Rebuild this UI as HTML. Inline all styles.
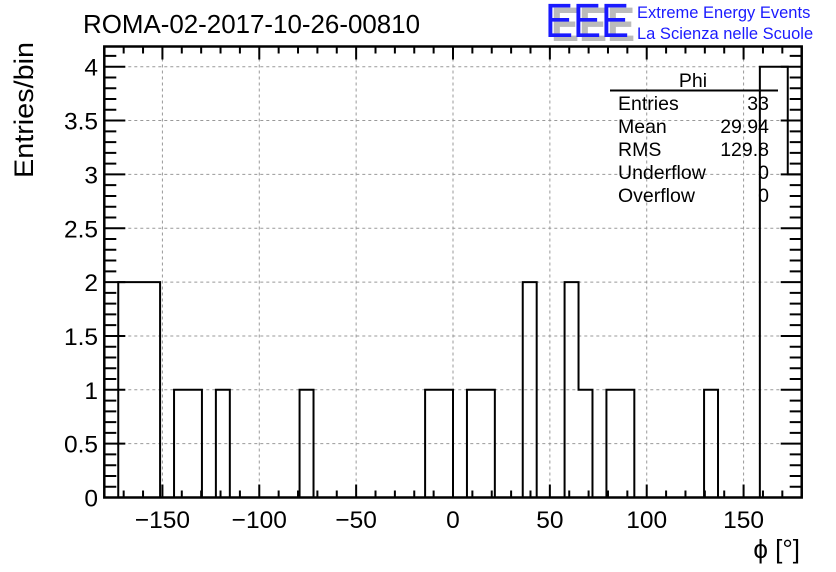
<!DOCTYPE html>
<html><head><meta charset="utf-8"><style>
html,body{margin:0;padding:0;background:#fff;}
svg{display:block;font-family:"Liberation Sans",Arial,sans-serif;}
</style></head><body>
<svg id="chart" width="836" height="572" viewBox="0 0 836 572" xmlns="http://www.w3.org/2000/svg">
<rect x="0" y="0" width="836" height="572" fill="#fff"/>
<g id="grid"></g>
<g id="hist"></g>
<g id="axes"></g>
<text x="83" y="33" font-size="26" fill="#000" textLength="337" lengthAdjust="spacingAndGlyphs">ROMA-02-2017-10-26-00810</text>
<text transform="translate(33,178) rotate(-90)" font-size="27" fill="#000" textLength="136" lengthAdjust="spacingAndGlyphs">Entries/bin</text>
<text x="800" y="558" font-size="26" text-anchor="end" fill="#000">ϕ [°]</text>
<g>
<text x="551" y="41" font-size="48" fill="#bbb" font-weight="bold" textLength="84" lengthAdjust="spacingAndGlyphs">EEE</text>
<text x="545" y="37" font-size="48" fill="#1a1aff" textLength="84" lengthAdjust="spacingAndGlyphs">EEE</text>
<text x="637" y="18" font-size="16.5" fill="#1a1aff">Extreme Energy Events</text>
<text x="637" y="39" font-size="16.5" fill="#1a1aff">La Scienza nelle Scuole</text>
</g>
<g font-size="19.5" fill="#000">
<text x="693" y="87" text-anchor="middle">Phi</text>
<line x1="610" y1="90.5" x2="778" y2="90.5" stroke="#000" stroke-width="2"/>
<text x="618" y="110">Entries</text><text x="769" y="110" text-anchor="end">33</text>
<text x="618" y="133">Mean</text><text x="769" y="133" text-anchor="end">29.94</text>
<text x="618" y="156">RMS</text><text x="769" y="156" text-anchor="end">129.8</text>
<text x="618" y="179">Underflow</text><text x="769" y="179" text-anchor="end">0</text>
<text x="618" y="202">Overflow</text><text x="769" y="202" text-anchor="end">0</text>
</g>
</svg>
<script>
const binEdgesStart = -180;
const binWidth = 7.2;
const binValues = [0,2,2,2,0,1,1,0,1,0, 0,0,0,0,1,0,0,0,0,0, 0,0,0,1,1,0,1,1,0,0, 2,0,0,2,1,0,1,1,0,0, 0,0,0,1,0,0,0,4,4,3];
const xTickValues = [-150,-100,-50,0,50,100,150];
const xTickLabels = ["\u2212150","\u2212100","\u221250","0","50","100","150"];
const yTickValues = [0,0.5,1,1.5,2,2.5,3,3.5,4];
const yTickLabels = ["0","0.5","1","1.5","2","2.5","3","3.5","4"];

const L=104.3,R=801.7,T=46.5,B=497.5;
const xMin=-180,xMax=180,yMin=0,yMax=(B-T)/107.7;
const xs=v=>L+(v-xMin)/(xMax-xMin)*(R-L);
const ys=v=>B-(v-yMin)/(yMax-yMin)*(B-T);
const NS="http://www.w3.org/2000/svg";
function mk(tag,parent,attrs){const e=document.createElementNS(NS,tag);for(const k in attrs)e.setAttribute(k,attrs[k]);parent.appendChild(e);return e;}
const grid=document.getElementById('grid'),axes=document.getElementById('axes'),hist=document.getElementById('hist');

xTickValues.forEach((v,i)=>{
  const g=mk('line',grid,{x1:xs(v),x2:xs(v),y1:T,y2:B,stroke:'#999','stroke-width':1,'stroke-dasharray':'3,3'});
  
  
  const t=mk('text',axes,{x:xs(v),y:528,'font-size':24.5,'text-anchor':'middle',fill:'#000'});
  t.textContent=xTickLabels[i];
  
  
});
yTickValues.forEach((v,i)=>{
  const g=mk('line',grid,{x1:L,x2:R,y1:ys(v),y2:ys(v),stroke:'#999','stroke-width':1,'stroke-dasharray':'3,3'});
  
  
  const t=mk('text',axes,{x:98,y:ys(v)+9,'font-size':24.5,'text-anchor':'end',fill:'#000'});
  t.textContent=yTickLabels[i];
  
  
});

let d='M'+xs(binEdgesStart)+','+ys(0);
binValues.forEach((v,k)=>{
  const x0=xs(binEdgesStart+k*binWidth),x1=xs(binEdgesStart+(k+1)*binWidth);
  d+=' L'+x0+','+ys(v)+' L'+x1+','+ys(v);
});
d+=' L'+xs(binEdgesStart+binValues.length*binWidth)+','+ys(0);
const p=mk('path',hist,{d:d,fill:'none',stroke:'#000','stroke-width':2});



const fr=mk('rect',axes,{x:L,y:T,width:R-L,height:B-T,fill:'none',stroke:'#000','stroke-width':2.5});



let td='';
for(let v=-180;v<=180;v+=10){
  const major=(v%50===0);const len=major?13:7;const x=xs(v);
  td+=`M${x},${B}V${B-len}M${x},${T}V${T+len}`;
}
for(let i=0;i<=42;i++){
  const v=i*0.1;if(v>yMax)break;
  const major=(i%5===0);const len=major?21:12;const y=ys(v);
  td+=`M${L},${y}H${L+len}M${R},${y}H${R-len}`;
}
const tk=mk('path',axes,{d:td,stroke:'#000','stroke-width':2,fill:'none'});


</script>
</body></html>
